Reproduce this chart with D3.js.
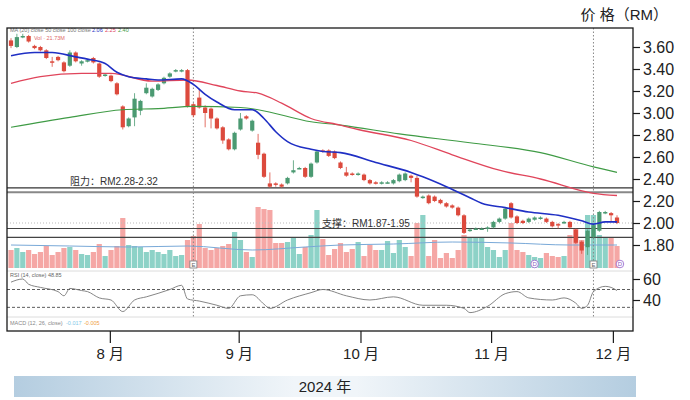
<!DOCTYPE html>
<html>
<head>
<meta charset="utf-8">
<script src="https://cdn.jsdelivr.net/npm/d3@7"></script>
<style>
body { margin: 0; background: #fff; }
svg text { font-family: "Liberation Sans", Arial, "Noto Sans CJK SC", sans-serif; }
</style>
</head>
<body>
<script>
// daily candles (RM)
var opens  = [3.66,3.60,3.69,3.70,3.61,3.60,3.57,3.47,3.51,3.46,3.43,3.55,3.45,3.47,3.50,3.45,3.34,3.34,3.27,3.06,
              2.88,2.96,3.02,3.18,3.15,3.21,3.27,3.33,3.38,3.38,3.39,3.08,3.14,3.05,3.04,2.95,2.87,2.76,2.67,2.85,
              2.97,2.84,2.73,2.63,2.36,2.36,2.35,2.36,2.46,2.50,2.50,2.42,2.55,2.66,2.66,2.65,2.55,2.46,2.45,2.44,
              2.44,2.39,2.37,2.36,2.37,2.36,2.38,2.39,2.43,2.41,2.23,2.25,2.24,2.21,2.18,2.16,2.14,2.07,1.93,1.95,
              1.95,1.95,1.96,2.01,2.04,2.18,2.06,2.02,2.01,2.03,2.04,2.04,2.01,1.99,2.00,2.01,1.94,1.83,1.78,1.87,
              1.93,2.09,2.09,2.05];
var highs  = [3.68,3.72,3.72,3.71,3.62,3.61,3.58,3.51,3.52,3.47,3.57,3.56,3.48,3.49,3.51,3.46,3.36,3.35,3.28,3.07,
              2.96,3.18,3.12,3.27,3.23,3.27,3.33,3.37,3.40,3.40,3.40,3.09,3.22,3.07,3.05,2.96,2.88,2.77,2.83,3.00,
              2.98,2.94,2.81,2.64,2.46,2.37,2.36,2.42,2.57,2.51,2.51,2.55,2.66,2.67,2.67,2.66,2.56,2.51,2.46,2.46,
              2.45,2.40,2.38,2.38,2.38,2.40,2.45,2.46,2.44,2.43,2.25,2.26,2.25,2.22,2.19,2.17,2.15,2.08,1.95,1.96,
              1.96,1.97,2.02,2.05,2.14,2.19,2.07,2.03,2.05,2.06,2.06,2.05,2.02,2.00,2.02,2.02,1.95,1.84,1.94,1.99,
              2.11,2.11,2.10,2.07];
var lows   = [3.59,3.59,3.68,3.64,3.58,3.56,3.49,3.42,3.47,3.37,3.42,3.46,3.43,3.46,3.45,3.32,3.33,3.28,3.16,2.85,
              2.87,2.88,2.98,3.17,3.14,3.20,3.26,3.32,3.37,3.37,3.05,2.96,3.04,2.87,2.86,2.85,2.72,2.66,2.66,2.84,
              2.94,2.83,2.58,2.41,2.32,2.33,2.32,2.35,2.45,2.49,2.41,2.41,2.54,2.64,2.60,2.58,2.49,2.42,2.43,2.43,
              2.38,2.35,2.35,2.35,2.36,2.35,2.37,2.38,2.37,2.23,2.22,2.17,2.19,2.17,2.14,2.13,2.06,1.90,1.92,1.94,
              1.94,1.92,1.95,2.00,2.03,2.04,1.99,1.99,2.00,2.02,2.03,2.00,1.96,1.95,1.99,1.95,1.81,1.72,1.71,1.86,
              1.92,2.08,2.01,1.99];
var closes = [3.61,3.69,3.70,3.65,3.59,3.57,3.50,3.46,3.48,3.38,3.55,3.47,3.47,3.48,3.46,3.33,3.35,3.29,3.17,2.87,
              2.95,3.13,3.11,3.23,3.22,3.26,3.32,3.36,3.39,3.39,3.06,2.98,3.05,3.00,2.95,2.86,2.75,2.67,2.82,2.95,
              2.95,2.93,2.62,2.42,2.33,2.35,2.33,2.41,2.48,2.50,2.42,2.54,2.65,2.65,2.61,2.59,2.50,2.43,2.44,2.45,
              2.39,2.36,2.36,2.37,2.37,2.39,2.44,2.45,2.41,2.24,2.24,2.18,2.20,2.18,2.15,2.14,2.07,1.91,1.94,1.95,
              1.95,1.96,2.01,2.04,2.13,2.05,2.00,2.00,2.04,2.05,2.05,2.01,1.97,1.98,2.01,1.96,1.82,1.75,1.93,1.98,
              2.10,2.10,2.07,2.00];
// volume (millions of shares)
var volumes = [1.8,2.0,1.6,1.8,1.4,1.6,2.2,1.3,1.6,2.0,2.1,1.8,1.4,1.3,1.6,2.4,1.2,1.8,2.2,5.0,
               2.3,2.2,2.1,1.6,1.8,1.6,1.4,1.8,1.2,1.3,2.8,3.2,4.4,2.0,1.8,2.0,2.2,2.4,3.6,2.8,
               1.6,1.1,6.1,5.9,5.8,2.5,2.5,2.6,3.1,1.4,2.1,3.3,5.8,2.9,1.3,1.9,2.5,1.6,1.9,2.6,
               1.2,2.3,1.8,1.8,2.7,1.5,2.8,2.1,1.2,4.5,5.3,1.2,2.8,1.0,1.5,1.0,1.8,3.3,3.1,3.1,
               3.1,2.1,1.8,1.1,1.8,4.5,1.8,1.6,1.3,1.1,1.0,1.5,1.2,1.1,1.2,3.3,3.9,2.8,5.3,5.3,
               3.3,3.0,3.0,2.2];

// moving averages at [bar, value]
var ma20  = [[0,3.52],[4,3.55],[7,3.55],[11,3.51],[13,3.49],[16,3.45],[18,3.37],[20,3.33],[23,3.31],[25,3.30],
             [29,3.31],[31,3.26],[33,3.17],[35,3.10],[38,3.03],[41,3.03],[43,2.95],[45,2.83],[47,2.74],[51,2.67],
             [53,2.65],[56,2.64],[62,2.55],[68,2.46],[70,2.42],[74,2.33],[78,2.23],[80,2.18],[84,2.14],[88,2.10],
             [93,2.07],[97,2.02],[99,1.99],[101,2.01],[103,2.01]];
var ma50  = [[0,3.27],[5,3.33],[12,3.36],[17,3.36],[24,3.29],[30,3.30],[35,3.25],[39,3.20],[42,3.18],[46,3.09],
             [51,2.95],[56,2.89],[59,2.85],[68,2.75],[75,2.62],[83,2.48],[90,2.40],[99,2.27],[103,2.25]];
var ma100 = [[0,2.87],[10,2.96],[19,3.03],[25,3.04],[31,3.06],[39,3.05],[42,3.03],[51,2.92],[56,2.89],[66,2.81],
             [78,2.73],[90,2.64],[99,2.51],[103,2.46]];
var volMa = [[0,2.3],[10,2.2],[20,2.1],[30,2.2],[41,1.8],[50,2.1],[56,2.3],[65,2.4],[75,2.6],[85,2.5],[95,2.3],[103,2.3]];

// RSI (14) sampled at [bar, value]
var rsi = [[0,57],[2,60],[3,55],[5,52],[8,48],[9,44],[10,51],[12,49],[13,48],[15,42],[17,40],[19,29],[21,40],[23,43],
           [27,50],[29,54],[30,41],[32,39],[35,35],[37,32],[39,44],[41,45],[43,36],[44,32],[47,40],[51,47],[53,50],
           [57,44],[61,40],[65,43],[70,35],[74,35],[77,32],[78,28],[81,34],[84,46],[86,48],[88,42],[92,40],[94,42],
           [96,37],[97,32],[98,35],[99,48],[101,53],[102,52],[103,49]];
var rsiLevels = [50, 33];

var resistance = [2.28, 2.32];
var support = [1.87, 1.95];
var markerBars = [31, 99];
var dividendBars = [89, 103.5];

var priceTicks = [3.6, 3.4, 3.2, 3.0, 2.8, 2.6, 2.4, 2.2, 2.0, 1.8];
var rsiTicks = [60, 40];
var monthBars = [16.8, 38.7, 59.4, 81.6, 102.3];
var monthLabels = ["8 月", "9 月", "10 月", "11 月", "12 月"];

var frame = { left: 7, right: 633, top: 28, bottom: 331 };
var up = "#4b9a72", down = "#dc4a3d";

var svg = d3.select("body")
	.append("svg")
	.attr("width", 690)
	.attr("height", 400);

var x = d3.scaleLinear().domain([0, opens.length - 1]).range([11, 617]);
var y = d3.scaleLinear().domain([1.8, 3.6]).range([245, 47]);
var vy = d3.scaleLinear().domain([0, 6.3]).range([268, 205]);
var ry = d3.scaleLinear().domain([40, 60]).range([300, 279]);

// banner gradient
var grad = svg.append("defs").append("linearGradient").attr("id", "band");
grad.append("stop").attr("offset", "0%").attr("stop-color", "#b4cde0");
grad.append("stop").attr("offset", "45%").attr("stop-color", "#f0f5f9");
grad.append("stop").attr("offset", "55%").attr("stop-color", "#f0f5f9");
grad.append("stop").attr("offset", "100%").attr("stop-color", "#b4cde0");

var candles = d3.range(opens.length).map(function(i){
	return { i: i, o: opens[i], h: highs[i], l: lows[i], c: closes[i], v: volumes[i] };
});

// panel separators
svg.selectAll(".sep")
	.data([271, 317])
	.enter()
	.append("line")
	.attr("x1", frame.left).attr("x2", frame.right)
	.attr("y1", function(d){ return d; }).attr("y2", function(d){ return d; })
	.attr("stroke", "#dcdcdc");

// volume
svg.selectAll(".vol")
	.data(candles)
	.enter()
	.append("rect")
	.attr("x", function(d){ return x(d.i) - 2.6; })
	.attr("width", 5.2)
	.attr("y", function(d){ return vy(d.v); })
	.attr("height", function(d){ return vy(0) - vy(d.v); })
	.attr("fill", function(d){ return d.c >= d.o ? "#8dd2c7" : "#f5a7a5"; });

svg.append("path")
	.datum(volMa)
	.attr("fill", "none")
	.attr("stroke", "#79a9d8")
	.attr("stroke-width", 1)
	.attr("d", d3.line().curve(d3.curveMonotoneX)
		.x(function(d){ return x(d[0]); })
		.y(function(d){ return vy(d[1]); }));

// last price line
svg.append("line")
	.attr("x1", frame.left).attr("x2", frame.right)
	.attr("y1", y(closes[closes.length - 1])).attr("y2", y(closes[closes.length - 1]))
	.attr("stroke", "#bbb").attr("stroke-dasharray", "1,2");

// marker verticals
svg.selectAll(".vmark")
	.data(markerBars)
	.enter()
	.append("line")
	.attr("x1", function(d){ return x(d); }).attr("x2", function(d){ return x(d); })
	.attr("y1", frame.top).attr("y2", 317)
	.attr("stroke", "#888").attr("stroke-dasharray", "1.5,2");

// resistance / support bands
svg.selectAll(".res")
	.data(resistance)
	.enter()
	.append("line")
	.attr("x1", frame.left).attr("x2", frame.right)
	.attr("y1", function(d){ return y(d); }).attr("y2", function(d){ return y(d); })
	.attr("stroke", function(d, i){ return i == 0 ? "#888" : "#333"; })
	.attr("stroke-width", function(d, i){ return i == 0 ? 2 : 1.3; });

svg.selectAll(".sup")
	.data(support)
	.enter()
	.append("line")
	.attr("x1", frame.left).attr("x2", frame.right)
	.attr("y1", function(d){ return y(d); }).attr("y2", function(d){ return y(d); })
	.attr("stroke", "#444")
	.attr("stroke-width", 1.2);

// candles
var candle = svg.selectAll(".candle")
	.data(candles)
	.enter()
	.append("g");

candle.append("line")
	.attr("x1", function(d){ return x(d.i); }).attr("x2", function(d){ return x(d.i); })
	.attr("y1", function(d){ return y(d.h); }).attr("y2", function(d){ return y(d.l); })
	.attr("stroke", function(d){ return d.c >= d.o ? up : down; })
	.attr("stroke-width", 0.8);

candle.append("rect")
	.attr("x", function(d){ return x(d.i) - 2.1; })
	.attr("width", 4.2)
	.attr("y", function(d){ return y(Math.max(d.o, d.c)); })
	.attr("height", function(d){ return Math.max(1.5, Math.abs(y(d.o) - y(d.c))); })
	.attr("fill", function(d){ return d.c >= d.o ? up : down; });

// moving averages
function maLine(data, color, w){
	svg.append("path")
		.datum(data)
		.attr("fill", "none")
		.attr("stroke", color)
		.attr("stroke-width", w)
		.attr("d", d3.line().curve(d3.curveMonotoneX)
			.x(function(d){ return x(d[0]); })
			.y(function(d){ return y(d[1]); }));
}
maLine(ma100, "#3f9b45", 1.1);
maLine(ma50, "#e0455b", 1.3);
maLine(ma20, "#1f2fc4", 1.6);

// event badges
svg.selectAll(".earn")
	.data(markerBars)
	.enter()
	.append("rect")
	.attr("x", function(d){ return x(d) - 3.5; })
	.attr("y", 261)
	.attr("width", 7).attr("height", 7)
	.attr("fill", "#fff").attr("stroke", "#777").attr("stroke-width", 0.8);
svg.selectAll(".earnT")
	.data(markerBars)
	.enter()
	.append("text")
	.attr("x", function(d){ return x(d); })
	.attr("y", 267)
	.attr("text-anchor", "middle")
	.attr("font-size", 6).attr("fill", "#666")
	.text("E");
svg.selectAll(".div")
	.data(dividendBars)
	.enter()
	.append("circle")
	.attr("cx", function(d){ return x(d); })
	.attr("cy", 264)
	.attr("r", 3.8)
	.attr("fill", "#fff").attr("stroke", "#a070d0").attr("stroke-width", 0.9);
svg.selectAll(".divT")
	.data(dividendBars)
	.enter()
	.append("text")
	.attr("x", function(d){ return x(d); })
	.attr("y", 266.3)
	.attr("text-anchor", "middle")
	.attr("font-size", 6).attr("fill", "#8a5cc0")
	.text("D");

// RSI panel
svg.selectAll(".lvl")
	.data(rsiLevels)
	.enter()
	.append("line")
	.attr("x1", frame.left).attr("x2", frame.right)
	.attr("y1", function(d){ return ry(d); }).attr("y2", function(d){ return ry(d); })
	.attr("stroke", "#333").attr("stroke-width", 0.8).attr("stroke-dasharray", "3,2");

svg.append("path")
	.datum(rsi)
	.attr("fill", "none")
	.attr("stroke", "#777")
	.attr("stroke-width", 0.9)
	.attr("d", d3.line().curve(d3.curveMonotoneX)
		.x(function(d){ return x(d[0]); })
		.y(function(d){ return ry(d[1]); }));

// little legends
var legend = svg.append("g").attr("font-size", 5.5);
legend.append("text").attr("x", 10).attr("y", 32).attr("fill", "#777")
	.text("MA (20) close  50 close  100 close");
legend.append("text").attr("x", 92).attr("y", 32).attr("fill", "#1f2fc4").text("2.06");
legend.append("text").attr("x", 105).attr("y", 32).attr("fill", "#e0455b").text("2.25");
legend.append("text").attr("x", 118).attr("y", 32).attr("fill", "#3f9b45").text("2.40");
legend.append("text").attr("x", 34).attr("y", 40).attr("fill", "#e06a6a").text("Vol · 21.73M");
legend.append("text").attr("x", 10).attr("y", 277).attr("fill", "#666").text("RSI (14, close)  48.85");
legend.append("text").attr("x", 10).attr("y", 325).attr("fill", "#888").text("MACD (12, 26, close)");
legend.append("text").attr("x", 66).attr("y", 325).attr("fill", "#7fc8e8").text("-0.017");
legend.append("text").attr("x", 84).attr("y", 325).attr("fill", "#f0a040").text("-0.005");

// annotations
svg.append("text")
	.attr("x", 70).attr("y", y(resistance[1]) - 3)
	.attr("font-size", 10).attr("fill", "#333")
	.text("阻力：RM2.28-2.32");
svg.append("text")
	.attr("x", 322).attr("y", y(support[1]) - 2)
	.attr("font-size", 10).attr("fill", "#333")
	.text("支撑：RM1.87-1.95");

// frame
svg.append("rect")
	.attr("x", frame.left).attr("y", frame.top)
	.attr("width", frame.right - frame.left)
	.attr("height", frame.bottom - frame.top)
	.attr("fill", "none")
	.attr("stroke", "#1a1a1a")
	.attr("stroke-width", 1.3);

// axes
var priceAxis = svg.append("g")
	.attr("transform", "translate(" + frame.right + ",0)")
	.call(d3.axisRight(y).tickValues(priceTicks).tickFormat(d3.format(".2f")).tickSize(7).tickPadding(3));
var rsiAxis = svg.append("g")
	.attr("transform", "translate(" + frame.right + ",0)")
	.call(d3.axisRight(ry).tickValues(rsiTicks).tickSize(7).tickPadding(3));
var monthAxis = svg.append("g")
	.attr("transform", "translate(0," + frame.bottom + ")")
	.call(d3.axisBottom(x).tickValues(monthBars).tickFormat(function(d, i){ return monthLabels[i]; }).tickSize(12).tickPadding(5));

[priceAxis, rsiAxis, monthAxis].forEach(function(a){
	a.select(".domain").remove();
	a.selectAll("line").attr("stroke", "#1a1a1a").attr("stroke-width", 1.2);
	a.selectAll("text").attr("font-size", 16).attr("fill", "#222")
		.attr("font-family", "\"Liberation Sans\", Arial, \"Noto Sans CJK SC\", sans-serif");
});
monthAxis.selectAll("text").attr("font-size", 15);

svg.append("text")
	.attr("x", 668).attr("y", 20)
	.attr("text-anchor", "end")
	.attr("font-size", 15).attr("fill", "#222")
	.text("价 格（RM）");

// year band
svg.append("rect")
	.attr("x", 14).attr("y", 376)
	.attr("width", 622).attr("height", 21)
	.attr("fill", "url(#band)");
svg.append("text")
	.attr("x", 325).attr("y", 392)
	.attr("text-anchor", "middle")
	.attr("font-size", 15).attr("fill", "#222")
	.text("2024 年");
</script>
</body>
</html>
